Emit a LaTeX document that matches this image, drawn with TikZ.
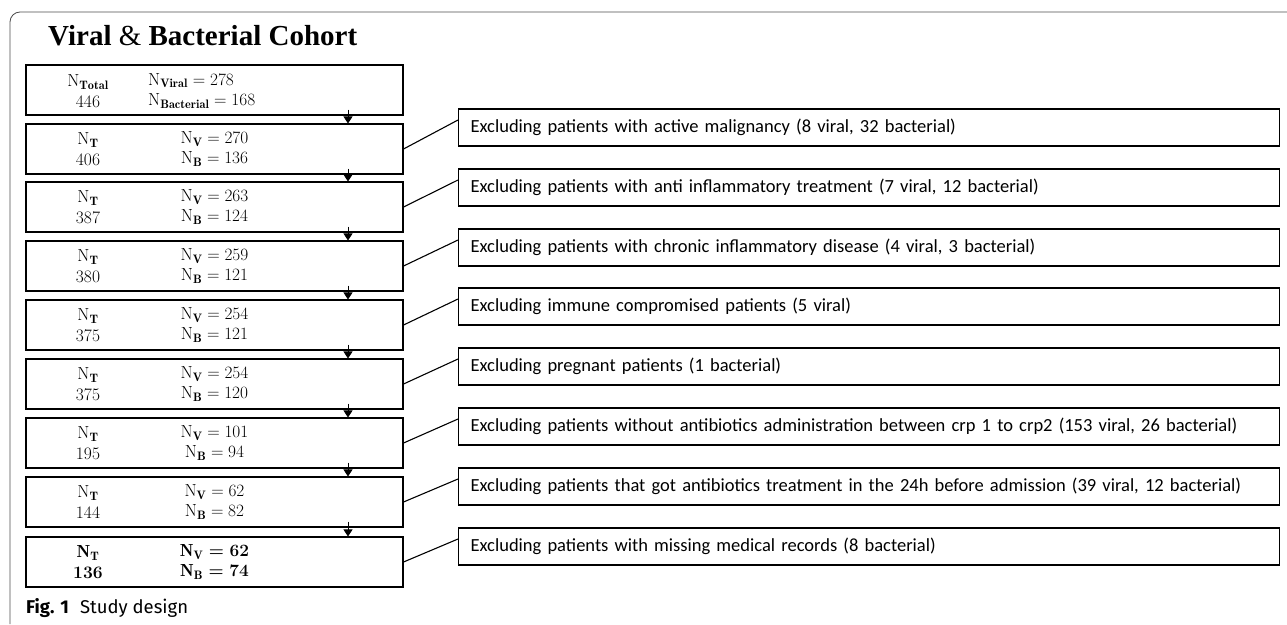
\documentclass[tikz,border=0pt]{standalone}
\usepackage{amsmath}
\usepackage{fontspec}
\setsansfont{Fira Sans}
\newfontfamily\exclfont{Carlito}
\newfontfamily\headfont{Liberation Serif}
\usetikzlibrary{arrows.meta}

\begin{document}
\begin{tikzpicture}[x=1pt,y=-1pt,
	cohort/.style={draw, line width=1.1pt, minimum width=377pt, minimum height=50pt, inner sep=0pt},
	excl/.style={draw, line width=1.2pt, minimum height=37pt, text width=797pt, inner xsep=12pt, align=left, anchor=west, font=\exclfont\fontsize{18.5}{21}\selectfont},
	num/.style={align=center, inner sep=0pt, font=\fontsize{17.5}{20.5}\selectfont},
	numbold/.style={num, font=\fontsize{17.5}{20.5}\selectfont\bfseries\boldmath},
	flow/.style={-{Triangle[width=9pt,length=7pt]}, line width=0.8pt},
	link/.style={line width=1.1pt}]
	\useasboundingbox (0,0) rectangle (1287,624);
	\draw[gray!60!black, line width=0.8pt, rounded corners=10pt] (10,624) -- (10,12) -- (1287,12);
	\node[anchor=base west, inner sep=0pt, font=\headfont\fontsize{29}{34}\selectfont\bfseries] (title) at (48,45) {Viral \textmd{\&} Bacterial Cohort};
	% cohort boxes
	\node[cohort] (b1) at (214.5,90) {};
	\node[num] (t1) at (88,91) {$\mathrm{N}_{\mathbf{Total}}$\\446};
	\node[num, align=left, anchor=west] (v1) at (148,91) {$\mathrm{N}_{\mathbf{Viral}}=278$\\$\mathrm{N}_{\mathbf{Bacterial}}=168$};
	\foreach \i/\yc/\nt/\nv/\nb in {2/149/406/270/136, 3/207/387/263/124, 4/266/380/259/121, 5/325/375/254/121, 6/384/375/254/120, 7/443/195/101/94, 8/502/144/62/82} {
		\node[cohort] (b\i) at (214.5,\yc) {};
		\node[num] (t\i) at (88,\yc) {$\mathrm{N}_{\mathbf{T}}$\\\nt};
		\node[num] (v\i) at (214.5,\yc) {$\mathrm{N}_{\mathbf{V}}=\nv$\\$\mathrm{N}_{\mathbf{B}}=\nb$};
	}
	\node[cohort] (b9) at (214.5,562) {};
	\node[numbold] (t9) at (88,562) {$\mathrm{N}_{\mathrm{T}}$\\136};
	\node[numbold] (v9) at (214.5,562) {$\mathrm{N}_{\mathrm{V}}=62$\\$\mathrm{N}_{\mathrm{B}}=74$};
	% exclusion boxes
	\foreach \i/\yc/\txt in {
		1/127.5/{Excluding patients with active malignancy (8 viral, 32 bacterial)},
		2/187.5/{Excluding patients with anti inflammatory treatment (7 viral, 12 bacterial)},
		3/247.5/{Excluding patients with chronic inflammatory disease (4 viral, 3 bacterial)},
		4/306.5/{Excluding immune compromised patients (5 viral)},
		5/366.5/{Excluding pregnant patients (1 bacterial)},
		6/426.5/{Excluding patients without antibiotics administration between crp 1 to crp2 (153 viral, 26 bacterial)},
		7/486.5/{Excluding patients that got antibiotics treatment in the 24h before admission (39 viral, 12 bacterial)},
		8/546.5/{Excluding patients with missing medical records (8 bacterial)}} {
		\node[excl] (e\i) at (458,\yc) {\txt};
	}
	\foreach \i in {1,...,8} {
		\pgfmathtruncatemacro\j{\i+1}
		\draw[flow] ([xshift=133.5pt,yshift=6pt]b\i.south) -- ([xshift=133.5pt]b\j.north);
		\draw[link] (b\j.east) -- ([yshift=7.5pt]e\i.west);
	}
	\node[anchor=base west, inner sep=0pt, font=\sffamily\fontsize{18.5}{22}\selectfont] (caption) at (26,613) {\textbf{Fig. 1}\hspace{0.6em}Study design};
\end{tikzpicture}
\end{document}
